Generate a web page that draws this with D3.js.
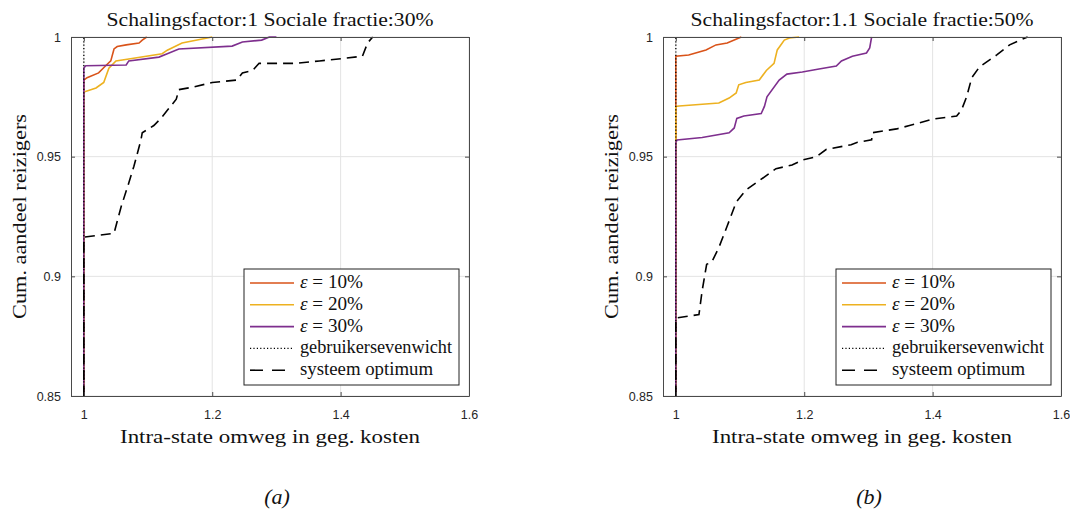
<!DOCTYPE html>
<html>
<head>
<meta charset="utf-8">
<script src="https://cdn.jsdelivr.net/npm/d3@7"></script>
<style>
  body { margin: 0; background: #fff; }
</style>
</head>
<body>
<script>
// ---- data ----
const xTicks = [1, 1.2, 1.4, 1.6];
const yTicks = [0.85, 0.9, 0.95, 1];
const titles = ["Schalingsfactor:1 Sociale fractie:30%", "Schalingsfactor:1.1 Sociale fractie:50%"];
const subLabels = ["(a)", "(b)"];
const epsLabels = ["10%", "20%", "30%"];
const otherLabels = ["gebruikersevenwicht", "systeem optimum"];

// panel (a)
const a10 = [[1, 0.85], [1, 0.982], [1.005, 0.983], [1.023, 0.985], [1.034, 0.988], [1.042, 0.990], [1.047, 0.995],
  [1.052, 0.996], [1.066, 0.9967], [1.086, 0.9975], [1.091, 0.9987], [1.098, 1]];
const a20 = [[1, 0.85], [1, 0.977], [1.019, 0.9787], [1.031, 0.981], [1.039, 0.987], [1.05, 0.990], [1.070, 0.9908],
  [1.122, 0.993], [1.130, 0.9945], [1.153, 0.9975], [1.2, 1]];
const a30 = [[1, 0.85], [1, 0.987], [1.003, 0.988], [1.066, 0.9883], [1.070, 0.990], [1.117, 0.9916], [1.130, 0.993],
  [1.148, 0.995], [1.231, 0.9962], [1.247, 0.9979], [1.277, 0.9987], [1.289, 1], [1.3, 1]];
const aUE = [[1, 0.85], [1, 1]];
const aSO = [[1, 0.85], [1, 0.9164], [1.047, 0.918], [1.058, 0.929], [1.070, 0.939], [1.078, 0.946], [1.089, 0.957],
  [1.091, 0.960], [1.109, 0.963], [1.120, 0.966], [1.144, 0.974], [1.148, 0.978], [1.169, 0.979], [1.200, 0.981],
  [1.238, 0.982], [1.247, 0.985], [1.263, 0.986], [1.273, 0.989], [1.331, 0.989], [1.367, 0.990], [1.403, 0.991],
  [1.434, 0.992], [1.442, 0.9975], [1.45, 1]];

// panel (b)
const b10 = [[1, 0.85], [1, 0.992], [1.020, 0.9925], [1.047, 0.9946], [1.0625, 0.9967], [1.080, 0.9975], [1.102, 1]];
const b20 = [[1, 0.85], [1, 0.971], [1.005, 0.9712], [1.067, 0.9724], [1.083, 0.9745], [1.094, 0.9766], [1.098, 0.980],
  [1.109, 0.981], [1.130, 0.982], [1.141, 0.986], [1.153, 0.989], [1.158, 0.9946], [1.169, 0.9987], [1.177, 0.9996],
  [1.192, 1]];
const b30 = [[1, 0.85], [1, 0.956], [1.002, 0.957], [1.041, 0.958], [1.083, 0.960], [1.091, 0.962], [1.095, 0.966],
  [1.106, 0.967], [1.133, 0.968], [1.138, 0.971], [1.142, 0.975], [1.161, 0.982], [1.173, 0.9845], [1.197, 0.9854],
  [1.223, 0.9866], [1.25, 0.9879], [1.258, 0.990], [1.275, 0.992], [1.297, 0.9933], [1.302, 0.9954], [1.305, 1]];
const bUE = [[1, 0.85], [1, 1]];
const bSO = [[1, 0.85], [1, 0.8826], [1.036, 0.884], [1.041, 0.894], [1.048, 0.905], [1.056, 0.906], [1.067, 0.912],
  [1.080, 0.921], [1.094, 0.931], [1.109, 0.936], [1.130, 0.940], [1.156, 0.945], [1.181, 0.9465], [1.197, 0.9486],
  [1.219, 0.950], [1.234, 0.953], [1.273, 0.955], [1.283, 0.956], [1.305, 0.957], [1.306, 0.960], [1.344, 0.9616],
  [1.364, 0.963], [1.40, 0.9657], [1.4375, 0.967], [1.445, 0.9695], [1.453, 0.975], [1.461, 0.983], [1.473, 0.9875],
  [1.5, 0.9925], [1.52, 0.9967], [1.536, 0.9987], [1.548, 1]];

const panelData = [[a10, a20, a30, aUE, aSO], [b10, b20, b30, bUE, bSO]];

// ---- styles ----
const colors = ["#D95319", "#EDB120", "#7E2F8E", "#000", "#000"];
const dashes = [null, null, null, "1.2,2.2", "10,6"];
const widths = [1.6, 1.6, 1.6, 1.3, 1.6];
const serif = "'Liberation Serif', 'DejaVu Serif', serif";
const sans = "'Liberation Sans', Arial, sans-serif";
// widths of the text blocks as laid out in the original (wider Computer Modern face)
const titleLen = 327, xLabelLen = 300, yLabelLen = 205;
const legendLens = [63, 63, 63, 152, 133];

const W = 1070, H = 519;
const plotW = 398, plotH = 359, plotTop = 37;
const lefts = [71, 663];

const svg = d3.select("body").append("svg")
  .attr("width", W)
  .attr("height", H);

function stretched(sel, len) {
  return sel.attr("textLength", len).attr("lengthAdjust", "spacingAndGlyphs");
}

panelData.forEach(function(series, p) {
  const x = d3.scaleLinear().domain([0.98, 1.6]).range([0, plotW]);
  const y = d3.scaleLinear().domain([0.85, 1]).range([plotH, 0]);

  const g = svg.append("g")
    .attr("transform", `translate(${lefts[p]},${plotTop})`);

  // grid
  g.append("g").selectAll("line.gx")
    .data(xTicks)
    .enter().append("line")
    .attr("x1", d => x(d)).attr("x2", d => x(d))
    .attr("y1", 0).attr("y2", plotH)
    .attr("stroke", "#e3e3e3").attr("stroke-width", 1);
  g.append("g").selectAll("line.gy")
    .data(yTicks)
    .enter().append("line")
    .attr("x1", 0).attr("x2", plotW)
    .attr("y1", d => y(d)).attr("y2", d => y(d))
    .attr("stroke", "#e3e3e3").attr("stroke-width", 1);

  // data lines
  const clipId = "clip" + p;
  g.append("clipPath").attr("id", clipId)
    .append("rect").attr("x", -1).attr("y", -1).attr("width", plotW + 2).attr("height", plotH + 2);
  const line = d3.line().x(d => x(d[0])).y(d => y(d[1]));
  series.forEach(function(s, i) {
    g.append("path")
      .datum(s)
      .attr("clip-path", `url(#${clipId})`)
      .attr("d", line)
      .attr("fill", "none")
      .attr("stroke", colors[i])
      .attr("stroke-width", widths[i])
      .attr("stroke-dasharray", dashes[i]);
  });

  // axes (ticks inside, mirrored)
  const axisColor = "#4a4a4a";
  const tickLen = -4;
  const axB = g.append("g").attr("transform", `translate(0,${plotH})`)
    .call(d3.axisBottom(x).tickValues(xTicks).tickSizeInner(tickLen).tickSizeOuter(0).tickPadding(14).tickFormat(d3.format("")));
  const axL = g.append("g")
    .call(d3.axisLeft(y).tickValues(yTicks).tickSizeInner(tickLen).tickSizeOuter(0).tickPadding(10).tickFormat(d3.format("")));
  const axT = g.append("g")
    .call(d3.axisTop(x).tickValues(xTicks).tickSizeInner(tickLen).tickSizeOuter(0).tickFormat(""));
  const axR = g.append("g").attr("transform", `translate(${plotW},0)`)
    .call(d3.axisRight(y).tickValues(yTicks).tickSizeInner(tickLen).tickSizeOuter(0).tickFormat(""));
  [axB, axL, axT, axR].forEach(function(a) {
    a.selectAll("path").attr("stroke", axisColor).attr("stroke-width", 1);
    a.selectAll("line").attr("stroke", axisColor).attr("stroke-width", 1);
    a.selectAll("text")
      .attr("fill", "#262626")
      .style("font-family", sans)
      .style("font-size", "12.5px");
  });

  const cx = plotW / 2;

  // title
  g.append("text")
    .attr("x", cx).attr("y", -11)
    .attr("text-anchor", "middle")
    .style("font-family", serif)
    .style("font-size", "19px")
    .attr("fill", "#111")
    .text(titles[p])
    .call(stretched, titleLen + (p === 1 ? 16 : 0));

  // x label
  g.append("text")
    .attr("x", cx).attr("y", plotH + 47)
    .attr("text-anchor", "middle")
    .style("font-family", serif)
    .style("font-size", "19px")
    .attr("fill", "#111")
    .text("Intra-state omweg in geg. kosten")
    .call(stretched, xLabelLen);

  // y label
  g.append("text")
    .attr("transform", `translate(-45,${plotH / 2}) rotate(-90)`)
    .attr("text-anchor", "middle")
    .style("font-family", serif)
    .style("font-size", "19px")
    .attr("fill", "#111")
    .text("Cum. aandeel reizigers")
    .call(stretched, yLabelLen);

  // sub label
  g.append("text")
    .attr("x", cx + 7).attr("y", plotH + 108)
    .attr("text-anchor", "middle")
    .style("font-family", serif)
    .style("font-style", "italic")
    .style("font-size", "22px")
    .attr("fill", "#111")
    .text(subLabels[p]);

  // legend
  const lg = g.append("g").attr("transform", `translate(${plotW - 225},232)`);
  lg.append("rect")
    .attr("width", 215).attr("height", 116)
    .attr("fill", "#fff")
    .attr("stroke", "#222").attr("stroke-width", 1);
  const rowY = d => 14 + d * 21.8;
  series.forEach(function(s, i) {
    lg.append("line")
      .attr("x1", 6).attr("x2", 50)
      .attr("y1", rowY(i)).attr("y2", rowY(i))
      .attr("stroke", colors[i])
      .attr("stroke-width", widths[i])
      .attr("stroke-dasharray", i === 4 ? "13,9" : dashes[i]);
    const t = lg.append("text")
      .attr("x", 56).attr("y", rowY(i) + 5)
      .style("font-family", serif)
      .style("font-size", "18px")
      .attr("fill", "#111");
    if (i < 3) {
      t.append("tspan").style("font-style", "italic").text("ε");
      t.append("tspan").text(" = " + epsLabels[i]);
    } else {
      t.text(otherLabels[i - 3]);
    }
    t.call(stretched, legendLens[i]);
  });
});
</script>
</body>
</html>
